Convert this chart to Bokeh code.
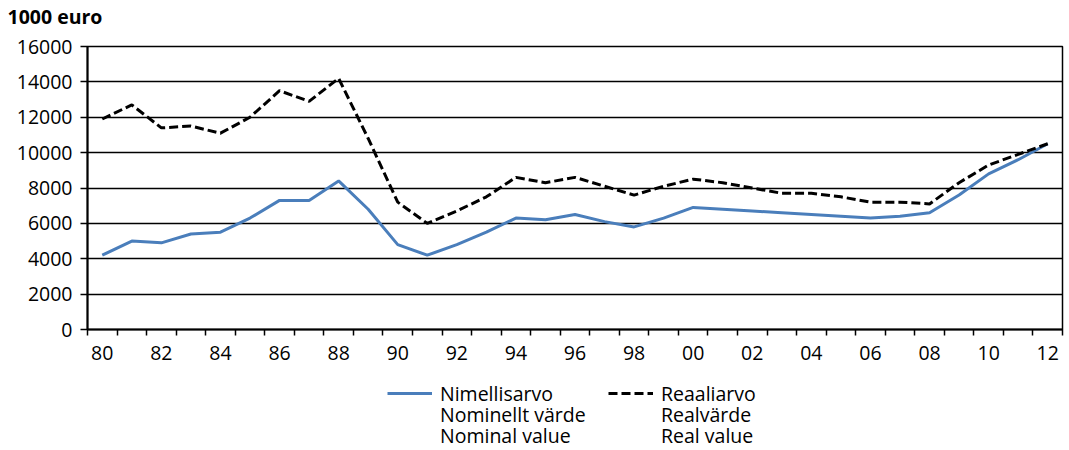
from bokeh.plotting import figure
from bokeh.models import FixedTicker, Range1d, Legend, LegendItem
from bokeh.layouts import column
from bokeh.embed import file_html
from bokeh.resources import INLINE

years = list(range(1980, 2013))
nominal = [4200, 5000, 4900, 5400, 5500, 6300, 7300, 7300, 8400, 6800,
           4800, 4200, 4800, 5500, 6300, 6200, 6500, 6100, 5800, 6300,
           6900, 6800, 6700, 6600, 6500, 6400, 6300, 6400, 6600, 7600,
           8800, 9600, 10500]
real = [11900, 12700, 11400, 11500, 11100, 12000, 13500, 12900, 14200, 10800,
        7200, 6000, 6700, 7500, 8600, 8300, 8600, 8100, 7600, 8100,
        8500, 8300, 8000, 7700, 7700, 7500, 7200, 7200, 7100, 8300,
        9300, 9900, 10500]
label_years = list(range(1980, 2013, 2))
x_labels = ["80", "82", "84", "86", "88", "90", "92", "94", "96", "98",
            "00", "02", "04", "06", "08", "10", "12"]
y_ticks = [0, 2000, 4000, 6000, 8000, 10000, 12000, 14000, 16000]
legend_rows = [("Nimellisarvo", "Reaaliarvo"),
               ("Nominellt värde", "Realvärde"),
               ("Nominal value", "Real value")]
unit_title = "1000 euro"

FONT = "Open Sans"
FS = "19.5px"
BLUE = "#4a7ebb"
DASH = "9 4"
W = 1066
H_TOP = 32
H_MAIN = 342
H_LEG = 75


def blank_strip(height):
    f = figure(width=W, height=height, output_backend="svg", toolbar_location=None,
               x_range=Range1d(0, 1), y_range=Range1d(0, 1),
               x_axis_location=None, y_axis_location=None,
               min_border_left=0, min_border_right=0, min_border_top=0,
               min_border_bottom=0)
    f.outline_line_color = None
    f.xgrid.grid_line_color = None
    f.ygrid.grid_line_color = None
    f.background_fill_color = "white"
    f.border_fill_color = "white"
    return f


# title strip (its frame is aligned with the chart's frame)
top = blank_strip(H_TOP)
top.title.text = unit_title
top.title.align = "left"
top.title.offset = -80
top.title.text_font = FONT
top.title.text_font_size = "19.5px"
top.title.text_font_style = "bold"
top.title.text_color = "black"
top.title.standoff = 0

p = figure(width=W, height=H_MAIN, output_backend="svg", toolbar_location=None,
           x_range=Range1d(1979.5, 2012.5), y_range=Range1d(0, 16000),
           min_border_left=87, min_border_right=4, min_border_top=14,
           min_border_bottom=45)

p.outline_line_color = "black"
p.outline_line_width = 1.5
p.background_fill_color = "white"
p.border_fill_color = "white"

# grid
p.xgrid.grid_line_color = None
p.ygrid.grid_line_color = "black"
p.ygrid.grid_line_width = 1.5
p.ygrid.ticker = FixedTicker(ticks=y_ticks)

# y axis
p.yaxis.ticker = FixedTicker(ticks=y_ticks)
p.yaxis.axis_line_color = "black"
p.yaxis.axis_line_width = 2
p.yaxis.major_tick_line_color = "black"
p.yaxis.major_tick_line_width = 1.5
p.yaxis.major_tick_out = 7
p.yaxis.major_tick_in = 0
p.yaxis.minor_tick_line_color = None
p.yaxis.major_label_text_font = FONT
p.yaxis.major_label_text_font_size = FS
p.yaxis.major_label_text_color = "black"
p.yaxis.major_label_standoff = 8

# x axis
boundaries = [y - 0.5 for y in years] + [years[-1] + 0.5]
p.xaxis.ticker = FixedTicker(ticks=label_years, minor_ticks=boundaries)
p.xaxis.major_label_overrides = {yr: lab for yr, lab in zip(label_years, x_labels)}
p.xaxis.axis_line_color = "black"
p.xaxis.axis_line_width = 2
p.xaxis.major_tick_line_color = None
p.xaxis.minor_tick_line_color = "black"
p.xaxis.minor_tick_line_width = 1.5
p.xaxis.minor_tick_out = 6
p.xaxis.minor_tick_in = 0
p.xaxis.major_label_text_font = FONT
p.xaxis.major_label_text_font_size = FS
p.xaxis.major_label_text_color = "black"
p.xaxis.major_label_standoff = 10

p.line(years, nominal, line_color=BLUE, line_width=3)
p.line(years, real, line_color="black", line_width=3, line_dash=DASH)

# legend strip below the chart
leg = blank_strip(H_LEG)

# key renderers carry the series but lie outside this strip's ranges
k_nom = leg.line(years, nominal, line_color=BLUE, line_width=3)
k_real = leg.line(years, real, line_color="black", line_width=3, line_dash=DASH)
k_blank = leg.line(years, real, line_alpha=0)

row_y = [42, 21, 0]
for i, (left_lab, right_lab) in enumerate(legend_rows):
    rl = k_nom if i == 0 else k_blank
    rr = k_real if i == 0 else k_blank
    lg = Legend(items=[LegendItem(label=left_lab, renderers=[rl]),
                       LegendItem(label=right_lab, renderers=[rr])],
                location=(300, row_y[i]), orientation="horizontal",
                glyph_width=45, glyph_height=28, label_height=28,
                label_width=160, label_standoff=8, spacing=8, padding=0,
                margin=0, border_line_color=None, background_fill_alpha=0,
                label_text_font=FONT, label_text_font_size=FS,
                label_text_color="black")
    leg.add_layout(lg)

layout = column(top, p, leg, spacing=0)
open("out.html", "w").write(file_html(layout, INLINE))
